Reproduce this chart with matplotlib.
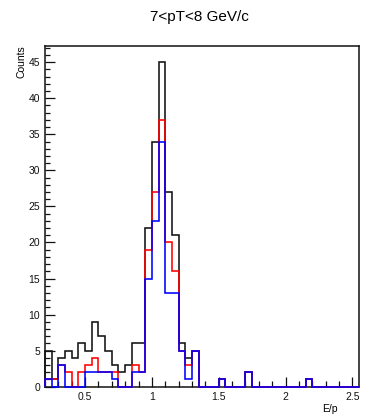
import numpy as np
import matplotlib
matplotlib.use("Agg")
from matplotlib import pyplot as plt
import matplotlib.ticker as plticker

plt.rcParams['font.family'] = ['Liberation Sans', 'DejaVu Sans']

##Data (E/p histogram, 47 bins of 0.05 from 0.2)
x_min = 0.2
bin_width = 0.05
n_bins = 47

counts_all = [5, 1, 4, 5, 4, 6, 5, 9, 7, 5, 3, 2, 3, 6, 6, 22, 34, 45, 27, 21, 6, 4, 5,
              0, 0, 0, 1, 0, 0, 0, 2, 0, 0, 0, 0, 0, 0, 0, 0, 1, 0, 0, 0, 0, 0, 0, 0]
counts_red = [1, 1, 3, 2, 0, 2, 3, 4, 2, 2, 2, 0, 0, 3, 2, 19, 27, 37, 20, 16, 5, 3, 5,
              0, 0, 0, 1, 0, 0, 0, 2, 0, 0, 0, 0, 0, 0, 0, 0, 1, 0, 0, 0, 0, 0, 0, 0]
counts_blue = [1, 0, 3, 0, 0, 0, 2, 2, 2, 2, 1, 0, 0, 2, 2, 15, 23, 34, 13, 13, 5, 1, 5,
               0, 0, 0, 1, 0, 0, 0, 2, 0, 0, 0, 0, 0, 0, 0, 0, 1, 0, 0, 0, 0, 0, 0, 0]

edges = x_min + bin_width * np.arange(n_bins + 1)

##Plot
fig = plt.figure(figsize=(3.65, 4.18), dpi=100)
ax = fig.add_axes([0.1233, 0.0749, 0.9836 - 0.1233, 0.8900 - 0.0749])

for vals, col in [(counts_all, '#111111'), (counts_red, '#ff0000'), (counts_blue, '#0000ff')]:
    ax.stairs(vals, edges, baseline=0, color=col, linewidth=1.15, clip_on=False, zorder=3)

ax.set_xlim(edges[0], edges[-1])
ax.set_ylim(0, 1.05 * max(counts_all))

ax.xaxis.set_major_locator(plticker.MultipleLocator(0.5))
ax.xaxis.set_minor_locator(plticker.MultipleLocator(0.1))
ax.yaxis.set_major_locator(plticker.MultipleLocator(5))
ax.yaxis.set_minor_locator(plticker.MultipleLocator(1))
ax.xaxis.set_major_formatter(plticker.FuncFormatter(lambda v, p: ('%g' % v)))

ax.tick_params(which='both', direction='in', top=False, right=False,
               labelsize=7.5, colors='#111111', width=0.9)
ax.tick_params(axis='x', which='major', length=7.5, pad=3.5)
ax.tick_params(axis='x', which='minor', length=4)
ax.tick_params(axis='y', which='major', length=7.2, pad=3.5)
ax.tick_params(axis='y', which='minor', length=3.6)
for s in ax.spines.values():
    s.set_linewidth(1.1)
    s.set_color('#111111')

fig.text(199.5 / 365, 1 - 16.7 / 418, '7<pT<8 GeV/c', ha='center', va='center', fontsize=11)
fig.text(338 / 365, 1 - 409 / 418, 'E/p', ha='right', va='center', fontsize=7.5)
fig.text(21.7 / 365, 1 - 45 / 418, 'Counts', rotation=90, ha='center', va='top', fontsize=7.5)

plt.savefig('out.png', dpi=100)
